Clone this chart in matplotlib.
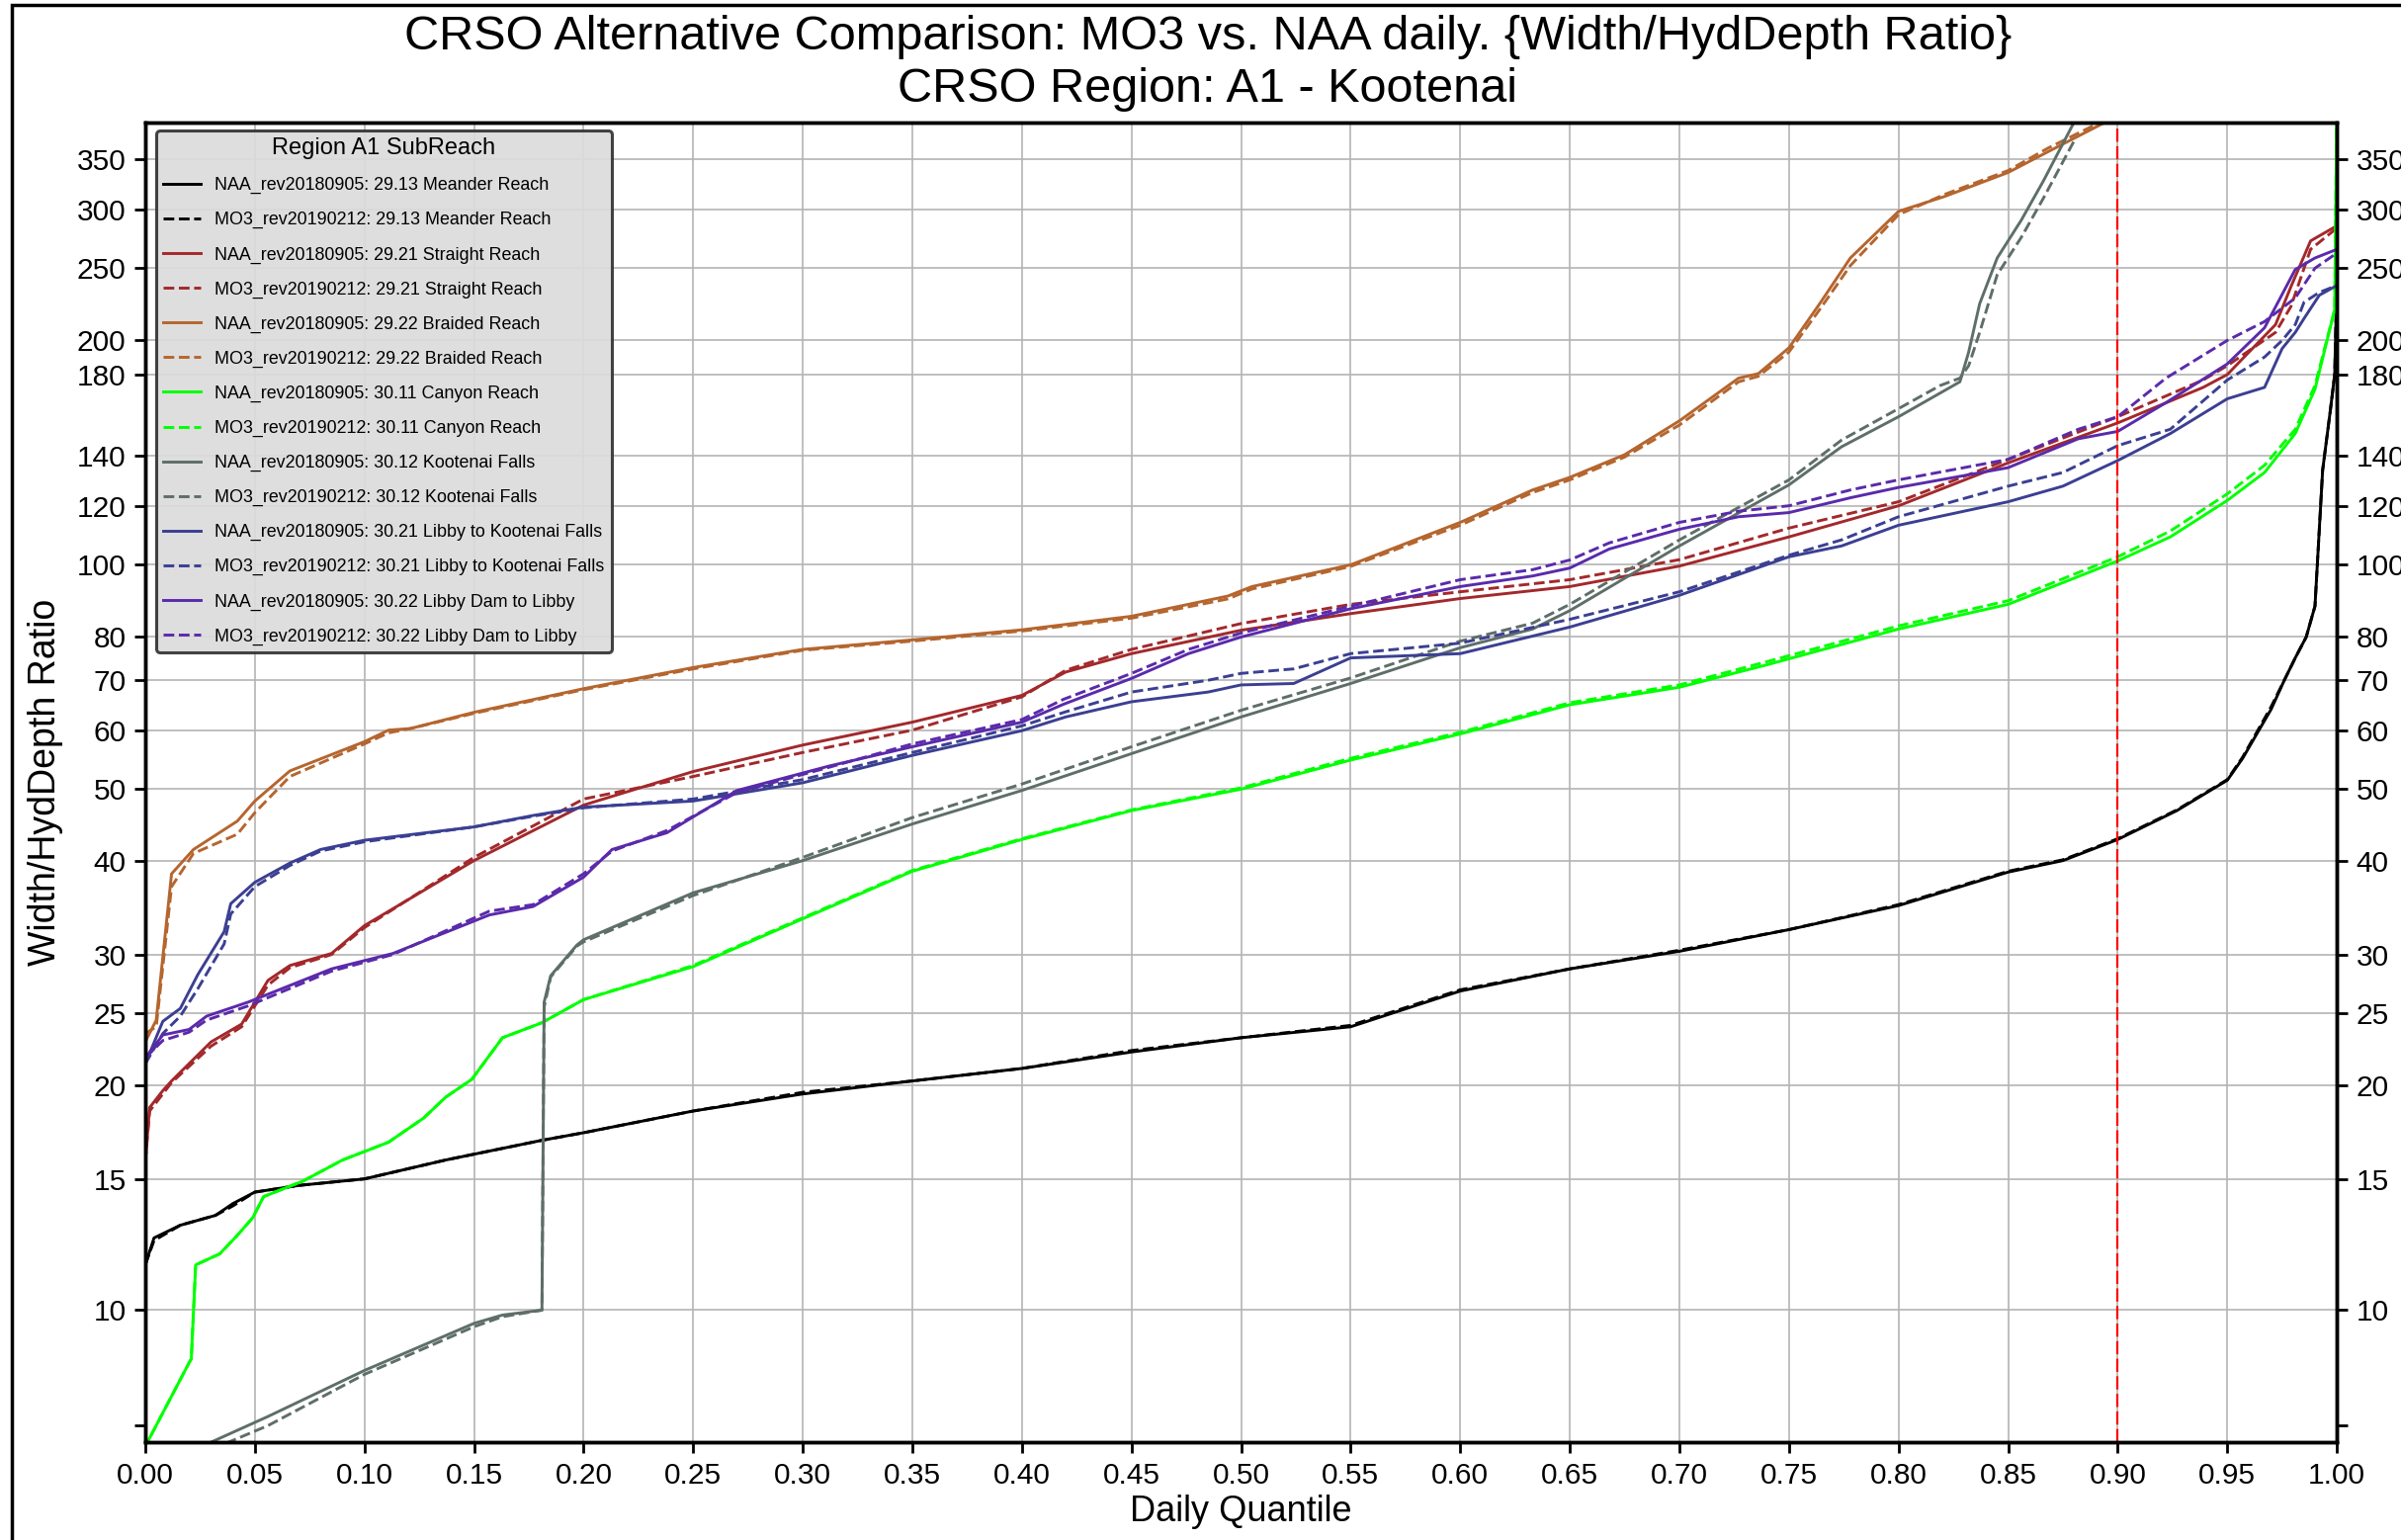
import matplotlib
matplotlib.use("Agg")
import matplotlib.pyplot as plt
from matplotlib.ticker import FixedLocator, NullFormatter
from matplotlib.patches import Rectangle

plt.rcParams['font.family'] = ['Liberation Sans', 'DejaVu Sans']

# quantile values, one x-list per subreach
x_mea = [0, 0.004, 0.016, 0.032, 0.04, 0.05, 0.07, 0.10, 0.137, 0.181, 0.2, 0.25, 0.3, 0.35, 0.4, 0.45, 0.5, 0.55,
         0.6, 0.65, 0.7, 0.75, 0.8, 0.85, 0.875, 0.9, 0.927, 0.95, 0.957, 0.963, 0.97, 0.976, 0.981, 0.986, 0.99,
         0.9935, 0.997, 0.999, 1.0]
naa_mea = [11.5, 12.5, 13.0, 13.4, 13.9, 14.4, 14.7, 15.0, 15.9, 16.9, 17.3, 18.5, 19.5, 20.3, 21.1, 22.2, 23.2, 24.0,
           26.8, 28.7, 30.3, 32.4, 34.9, 38.7, 40.1, 42.8, 46.8, 51.4, 55.0, 59.0, 64.0, 70.0, 75.0, 80.0, 88.0,
           134, 161, 180, 240]
mo3_mea = [11.5, 12.4, 13.0, 13.4, 13.8, 14.4, 14.7, 15.0, 15.9, 16.9, 17.3, 18.5, 19.6, 20.3, 21.1, 22.3, 23.2, 24.1,
           26.9, 28.7, 30.4, 32.4, 35.0, 38.8, 40.2, 42.9, 46.9, 51.5, 55.2, 59.3, 64.5, 70.0, 75.0, 80.0, 88.0,
           134, 161, 180, 240]

x_str = [0, 0.002, 0.008, 0.012, 0.03, 0.044, 0.056, 0.066, 0.085, 0.1, 0.15, 0.2, 0.25, 0.3, 0.35, 0.4, 0.42, 0.45,
         0.5, 0.55, 0.6, 0.65, 0.7, 0.75, 0.8, 0.85, 0.9, 0.939, 0.95, 0.972, 0.979, 0.988, 1.0]
naa_str = [15.8, 18.7, 19.7, 20.3, 22.9, 24.2, 27.7, 29.0, 30.1, 32.8, 40.1, 47.6, 52.8, 57.3, 61.5, 66.8, 71.8, 76.0,
           81.7, 86.0, 90.1, 93.5, 99.6, 109, 120, 137, 155, 173, 180, 210, 236, 272, 285]
mo3_str = [15.8, 18.5, 19.5, 20.2, 22.6, 24.0, 27.3, 28.8, 30.0, 32.6, 40.5, 48.5, 52.0, 56.0, 60.0, 66.5, 72.2, 77.0,
           83.4, 88.5, 92.0, 95.5, 101.6, 112, 121.5, 138.5, 158, 177, 185, 205, 222, 265, 283]

x_bra = [0, 0.005, 0.012, 0.022, 0.042, 0.05, 0.066, 0.1, 0.111, 0.121, 0.15, 0.2, 0.25, 0.3, 0.35, 0.4, 0.45, 0.494,
         0.505, 0.55, 0.6, 0.633, 0.65, 0.675, 0.7, 0.727, 0.736, 0.75, 0.764, 0.778, 0.8, 0.821, 0.85, 0.868, 0.894]
naa_bra = [22.9, 24.5, 38.5, 41.5, 45.3, 48.2, 52.9, 57.9, 60.0, 60.3, 63.4, 68.2, 72.8, 77.0, 79.3, 81.8, 85.3, 90.8,
           93.5, 100, 114, 126, 131, 140.5, 156, 178, 180.5, 195.5, 224, 258, 298, 312, 336, 358, 392]
mo3_bra = [23.5, 24.0, 37.0, 41.0, 43.5, 46.5, 52.0, 57.5, 59.5, 60.3, 63.2, 68.0, 72.5, 76.8, 79.0, 81.5, 84.8, 90.0,
           92.8, 99.5, 113, 125, 130, 139.5, 154, 176, 179, 193, 220, 252, 295, 314, 338, 362, 395]

x_can = [0, 0.001, 0.02, 0.021, 0.023, 0.034, 0.042, 0.049, 0.054, 0.072, 0.09, 0.111, 0.127, 0.137, 0.149, 0.163,
         0.181, 0.2, 0.25, 0.3, 0.35, 0.4, 0.45, 0.5, 0.55, 0.6, 0.65, 0.7, 0.739, 0.8, 0.85, 0.9, 0.924, 0.95, 0.967,
         0.981, 0.99, 0.999, 1.0]
naa_can = [6.5, 6.65, 8.5, 8.6, 11.5, 11.9, 12.6, 13.3, 14.2, 14.9, 15.9, 16.8, 18.1, 19.3, 20.4, 23.2, 24.3, 26.1,
           28.9, 33.5, 38.8, 42.8, 46.8, 50.0, 54.7, 59.3, 64.9, 68.5, 73.3, 82.0, 88.5, 101.2, 109.0, 122.0, 133.0,
           150.0, 172, 220, 420]
mo3_can = [6.5, 6.65, 8.5, 8.6, 11.5, 11.9, 12.6, 13.3, 14.2, 14.9, 15.9, 16.8, 18.1, 19.3, 20.4, 23.2, 24.3, 26.1,
           29.0, 33.6, 38.9, 42.9, 46.9, 50.2, 55.0, 59.6, 65.3, 69.0, 74.0, 82.8, 89.5, 102.5, 111.0, 124.5, 136.0,
           152.0, 174, 220, 420]

x_kfa = [0, 0.03, 0.056, 0.1, 0.15, 0.163, 0.181, 0.182, 0.185, 0.197, 0.2, 0.25, 0.3, 0.35, 0.4, 0.45, 0.5, 0.55,
         0.6, 0.633, 0.65, 0.7, 0.75, 0.774, 0.8, 0.819, 0.828, 0.832, 0.837, 0.845, 0.856, 0.866, 0.88]
naa_kfa = [6.0, 6.65, 7.2, 8.3, 9.6, 9.85, 10.0, 25.9, 28.1, 30.9, 31.4, 36.3, 40.1, 44.9, 49.8, 55.8, 62.5, 69.3,
           77.4, 82.0, 86.8, 106, 128, 144, 158, 170, 176, 193, 224, 258, 290, 327, 392]
mo3_kfa = [5.8, 6.5, 7.0, 8.2, 9.5, 9.8, 10.0, 25.5, 28.0, 30.8, 31.2, 36.0, 40.5, 45.8, 50.8, 57.0, 63.8, 70.5,
           79.0, 83.5, 88.5, 108, 130, 147, 162, 174, 178, 185, 205, 245, 275, 310, 370]

x_lkf = [0, 0.008, 0.016, 0.024, 0.036, 0.039, 0.05, 0.066, 0.08, 0.1, 0.15, 0.177, 0.2, 0.25, 0.3, 0.35, 0.4, 0.42,
         0.45, 0.485, 0.5, 0.524, 0.55, 0.6, 0.65, 0.7, 0.75, 0.774, 0.8, 0.85, 0.875, 0.9, 0.924, 0.95, 0.967, 0.975,
         0.981, 0.985, 0.992, 1.0]
naa_lkf = [21.4, 24.4, 25.4, 28.2, 32.2, 35.1, 37.5, 39.8, 41.5, 42.7, 44.5, 46.1, 47.3, 48.2, 51.0, 55.5, 59.9, 62.5,
           65.5, 67.5, 69.0, 69.3, 75.0, 76.0, 82.5, 91.0, 102.5, 106, 113, 121.5, 127.5, 138, 150, 167, 173, 195,
           205, 214, 230, 237]
mo3_lkf = [21.4, 23.5, 24.8, 27.0, 31.0, 34.0, 37.0, 39.5, 41.3, 42.5, 44.5, 46.0, 47.2, 48.5, 51.5, 56.0, 60.8, 63.5,
           67.5, 70.0, 71.5, 72.5, 76.0, 78.5, 84.5, 92.0, 103.0, 108, 116, 127.5, 133, 144.5, 152, 177, 190, 200,
           210, 225, 232, 237]

x_ldl = [0, 0.008, 0.02, 0.028, 0.047, 0.085, 0.113, 0.157, 0.177, 0.2, 0.213, 0.238, 0.27, 0.312, 0.35, 0.4, 0.419,
         0.45, 0.476, 0.5, 0.55, 0.6, 0.633, 0.65, 0.668, 0.7, 0.727, 0.75, 0.778, 0.8, 0.85, 0.882, 0.9, 0.922, 0.95,
         0.967, 0.981, 0.99, 1.0]
naa_ldl = [21.8, 23.4, 23.8, 24.8, 25.9, 28.7, 30.1, 33.9, 34.8, 38.1, 41.5, 43.7, 49.8, 53.7, 57.0, 61.5, 65.0,
           70.4, 76.0, 80.0, 87.3, 93.5, 96.6, 99.0, 105, 111.6, 116, 117.5, 123, 127, 135, 147.6, 151, 165, 186, 208,
           249, 258, 265]
mo3_ldl = [21.8, 23.0, 23.6, 24.5, 25.6, 28.5, 30.0, 34.3, 35.0, 38.5, 41.3, 44.0, 49.5, 53.5, 57.5, 62.0, 66.0,
           71.5, 77.0, 81.0, 88.0, 95.5, 98.5, 101.5, 107, 114, 118, 120, 126, 130, 138.5, 152, 158, 178, 200, 212,
           228, 250, 262]

reaches = ["29.13 Meander Reach", "29.21 Straight Reach", "29.22 Braided Reach", "30.11 Canyon Reach",
           "30.12 Kootenai Falls", "30.21 Libby to Kootenai Falls", "30.22 Libby Dam to Libby"]
colors = ["black", "#a3282b", "#b5652e", "#00ff00", "#5e6e69", "#3b3f92", "#5a2aab"]
series = [(x_mea, naa_mea, mo3_mea), (x_str, naa_str, mo3_str), (x_bra, naa_bra, mo3_bra),
          (x_can, naa_can, mo3_can), (x_kfa, naa_kfa, mo3_kfa), (x_lkf, naa_lkf, mo3_lkf),
          (x_ldl, naa_ldl, mo3_ldl)]

y_ticks = [10, 15, 20, 25, 30, 40, 50, 60, 70, 80, 100, 120, 140, 180, 200, 250, 300, 350]
x_ticks = [i * 0.05 for i in range(21)]

fig = plt.figure(figsize=(24.29, 15.58), dpi=100)
ax = fig.add_axes([0.0605, 0.0635, 0.9128, 0.8569])

for (xs, naa, mo3), name, c in zip(series, reaches, colors):
    ax.plot(xs, naa, color=c, lw=2.1, ls='-', label=f"NAA_rev20180905: {name}")
    ax.plot(xs, mo3, color=c, lw=2.1, ls='--', label=f"MO3_rev20190212: {name}")

ax.axvline(0.9, color='red', ls=(0, (6, 2)), lw=1.6)

ax.set_yscale('log')
ax.set_xlim(0, 1)
ax.set_ylim(6.65, 392)
ax.set_xticks(x_ticks)
ax.set_xticklabels([f"{v:.2f}" for v in x_ticks])
ax.set_yticks(y_ticks)
ax.set_yticklabels([str(v) for v in y_ticks])
ax.yaxis.set_minor_locator(FixedLocator([7]))
ax.yaxis.set_minor_formatter(NullFormatter())
ax.grid(True, which='major', color='#b4b4b4', lw=1.2)
ax.tick_params(which='both', direction='out', length=8, width=2, labelsize=21.5, pad=6)

ax2 = ax.twinx()
ax2.set_yscale('log')
ax2.set_ylim(6.65, 392)
ax2.set_yticks(y_ticks)
ax2.set_yticklabels([str(v) for v in y_ticks])
ax2.yaxis.set_minor_locator(FixedLocator([7]))
ax2.yaxis.set_minor_formatter(NullFormatter())
ax2.tick_params(which='both', direction='out', length=8, width=2, labelsize=21.5, pad=6)

for a in (ax, ax2):
    for sp in a.spines.values():
        sp.set_linewidth(2.5)
        sp.set_color('black')

ax.set_xlabel("Daily Quantile", fontsize=26, labelpad=4)
ax.set_ylabel("Width/HydDepth Ratio", fontsize=27, labelpad=10)

fig.text(0.503, 0.976, "CRSO Alternative Comparison: MO3 vs. NAA daily. {Width/HydDepth Ratio}",
         ha='center', va='center', fontsize=35)
fig.text(0.503, 0.942, "CRSO Region: A1 - Kootenai", ha='center', va='center', fontsize=35)

leg = ax.legend(loc='upper left', bbox_to_anchor=(0.005, 0.994), borderaxespad=0, fontsize=12.9,
                title="Region A1 SubReach", title_fontsize=17, handlelength=2.1, labelspacing=1.0,
                facecolor='#dcdcdc', edgecolor='#333333', framealpha=0.92, fancybox=True)
leg.get_frame().set_linewidth(2.2)

fig.patches.append(Rectangle((0.005, -0.02), 1.1, 1.017, transform=fig.transFigure, fill=False,
                             edgecolor='black', lw=2.5))

fig.savefig("out.png", dpi=100)
